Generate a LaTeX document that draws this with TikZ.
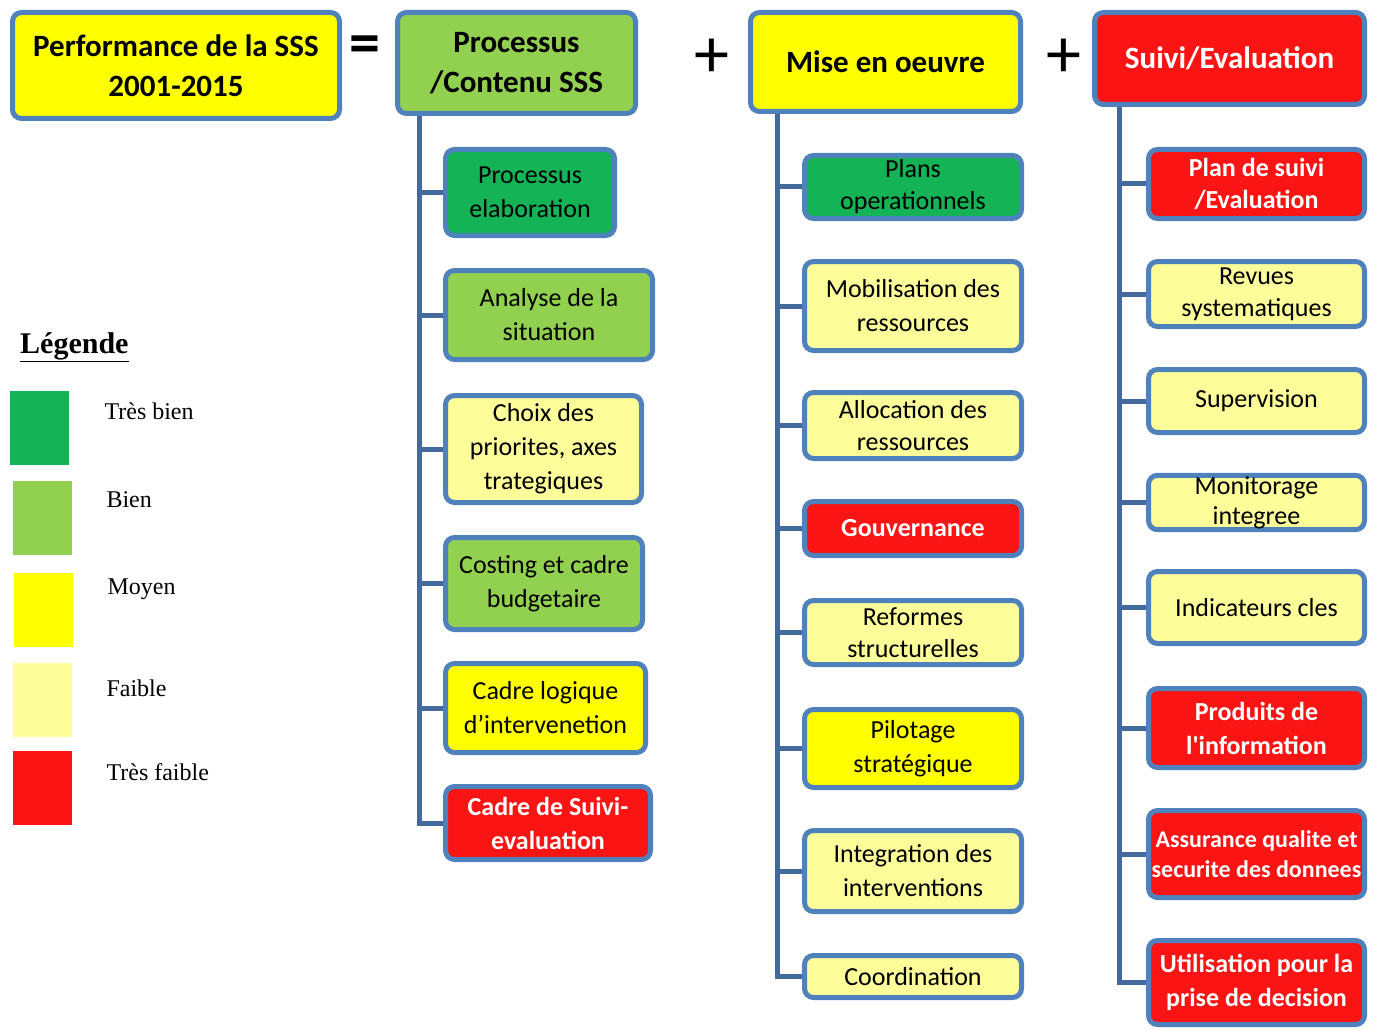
\documentclass[tikz,border=0pt]{standalone}
\usepackage{fontspec}
\setmainfont{Carlito}
\newfontfamily\legfont{Liberation Serif}
\usepackage{tikz}
\usetikzlibrary{positioning,backgrounds}
\definecolor{vertfonce}{HTML}{14B356}
\definecolor{vertclair}{HTML}{92D050}
\definecolor{jaune}{HTML}{FFFF00}
\definecolor{jaunepale}{HTML}{FDFD9A}
\definecolor{rouge}{HTML}{FA1414}
\definecolor{cadre}{HTML}{4F81BD}
\definecolor{ligne}{HTML}{44699C}
\tikzset{
  boite/.style={draw=cadre,line width=5pt,rounded corners=9pt,align=center,inner sep=1pt,
    font=\fontsize{26}{34}\selectfont},
  tete/.style={boite,font=\bfseries\fontsize{31}{40}\selectfont},
  tresbien/.style={fill=vertfonce},
  bien/.style={fill=vertclair},
  moyen/.style={fill=jaune},
  faible/.style={fill=jaunepale},
  tresfaible/.style={fill=rouge,text=white},
  alerte/.style={tresfaible,font=\bfseries\fontsize{26}{34}\selectfont},
  carre/.style={minimum width=59pt,minimum height=74pt,inner sep=0pt},
  legtxt/.style={anchor=west,font=\legfont\fontsize{24}{28}\selectfont},
  tronc/.style={draw=ligne,line width=5pt},
  signe/.style={font=\fontsize{70}{70}\selectfont}
}
\begin{document}
\begin{tikzpicture}[x=1pt,y=-1pt]
\useasboundingbox (0,0) rectangle (1374,1030);

\node[tete,moyen,minimum width=327pt,minimum height=106pt] (perf) at (176,65.5) {Performance de la SSS\\2001-2015};
\node[signe,font=\bfseries\fontsize{62}{62}\selectfont] (egal) at (365,50) {=};
\node[tete,bien,minimum width=238pt,minimum height=101pt] (proc) at (516.5,63) {Processus\\/Contenu SSS};
\node[signe] (plusa) at (712,58) {+};
\node[tete,moyen,minimum width=270pt,minimum height=99pt] (mise) at (885.5,62) {Mise en oeuvre};
\node[signe] (plusb) at (1064,58) {+};
\node[tete,tresfaible,minimum width=270pt,minimum height=92pt] (suivi) at (1229.5,58.5) {Suivi/Evaluation};

\node[boite,tresbien,minimum width=169pt,minimum height=86pt] (p1) at (530,192.5) {Processus\\elaboration};
\node[boite,bien,minimum width=207pt,minimum height=89pt] (p2) at (549,315) {Analyse de la\\situation};
\node[boite,faible,minimum width=196pt,minimum height=107pt] (p3) at (543.5,449) {Choix des\\priorites, axes\\trategiques};
\node[boite,bien,minimum width=197pt,minimum height=92pt] (p4) at (544,583.5) {Costing et cadre\\budgetaire};
\node[boite,moyen,minimum width=200pt,minimum height=89pt] (p5) at (545.5,708) {Cadre logique\\d’intervenetion};
\node[boite,alerte,minimum width=205pt,minimum height=73pt] (p6) at (548,823) {Cadre de Suivi-\\evaluation};

\node[boite,tresbien,minimum width=217pt,minimum height=63pt,font=\fontsize{26}{32}\selectfont] (m1) at (913,187) {Plans\\operationnels};
\node[boite,faible,minimum width=217pt,minimum height=89pt] (m2) at (913,306) {Mobilisation des\\ressources};
\node[boite,faible,minimum width=217pt,minimum height=66pt,font=\fontsize{26}{32}\selectfont] (m3) at (913,425.5) {Allocation des\\ressources};
\node[boite,alerte,minimum width=217pt,minimum height=54pt] (m4) at (913,528.5) {Gouvernance};
\node[boite,faible,minimum width=217pt,minimum height=64pt,font=\fontsize{26}{32}\selectfont] (m5) at (913,632.5) {Reformes\\structurelles};
\node[boite,moyen,minimum width=217pt,minimum height=78pt] (m6) at (913,748.5) {Pilotage\\stratégique};
\node[boite,faible,minimum width=217pt,minimum height=81pt] (m7) at (913,871) {Integration des\\interventions};
\node[boite,faible,minimum width=217pt,minimum height=42pt] (m8) at (913,976.5) {Coordination};

\node[boite,alerte,minimum width=216pt,minimum height=69pt,font=\bfseries\fontsize{26}{32}\selectfont] (s1) at (1256.5,184) {Plan de suivi\\/Evaluation};
\node[boite,faible,minimum width=216pt,minimum height=65pt,font=\fontsize{26}{32}\selectfont] (s2) at (1256.5,294) {Revues\\systematiques};
\node[boite,faible,minimum width=216pt,minimum height=63pt] (s3) at (1256.5,401) {Supervision};
\node[boite,faible,minimum width=216pt,minimum height=52pt,font=\fontsize{26}{30}\selectfont] (s4) at (1256.5,502.5) {Monitorage\\integree};
\node[boite,faible,minimum width=216pt,minimum height=72pt] (s5) at (1256.5,607.5) {Indicateurs cles};
\node[boite,alerte,minimum width=216pt,minimum height=79pt] (s6) at (1256.5,728) {Produits de\\l\textquotesingle information};
\node[boite,alerte,minimum width=216pt,minimum height=87pt,font=\bfseries\fontsize{24}{30}\selectfont] (s7) at (1256.5,854) {Assurance qualite et\\securite des donnees};
\node[boite,alerte,minimum width=216pt,minimum height=84pt] (s8) at (1256.5,982.5) {Utilisation pour la\\prise de decision};

\coordinate (t1) at (419,0);
\coordinate (t2) at (777,0);
\coordinate (t3) at (1119,0);
\begin{scope}[on background layer]
\foreach \c in {p1,p2,p3,p4,p5,p6} \draw[tronc] (proc.south -| t1) |- (\c.west);
\foreach \c in {m1,m2,m3,m4,m5,m6,m7,m8} \draw[tronc] (mise.south -| t2) |- (\c.west);
\foreach \c in {s1,s2,s3,s4,s5,s6,s7,s8} \draw[tronc] (suivi.south -| t3) |- (\c.west);
\end{scope}

\node[anchor=west,font=\legfont\bfseries\fontsize{30}{34}\selectfont,inner sep=0pt] (leg) at (20,347) {\underline{Légende}};
\node[carre,tresbien] (c1) at (39.5,428) {};
\node[carre,bien] (c2) at (42.5,517.5) {};
\node[carre,moyen] (c3) at (43.5,609.5) {};
\node[carre,faible] (c4) at (42.5,699.5) {};
\node[carre,tresfaible] (c5) at (42.5,787.5) {};
\node[legtxt] (l1) at (101,411) {Très bien};
\node[legtxt] (l2) at (103,500) {Bien};
\node[legtxt] (l3) at (104,589) {Moyen};
\node[legtxt] (l4) at (103,688) {Faible};
\node[legtxt] (l5) at (103,772) {Très faible};
\end{tikzpicture}
\end{document}
